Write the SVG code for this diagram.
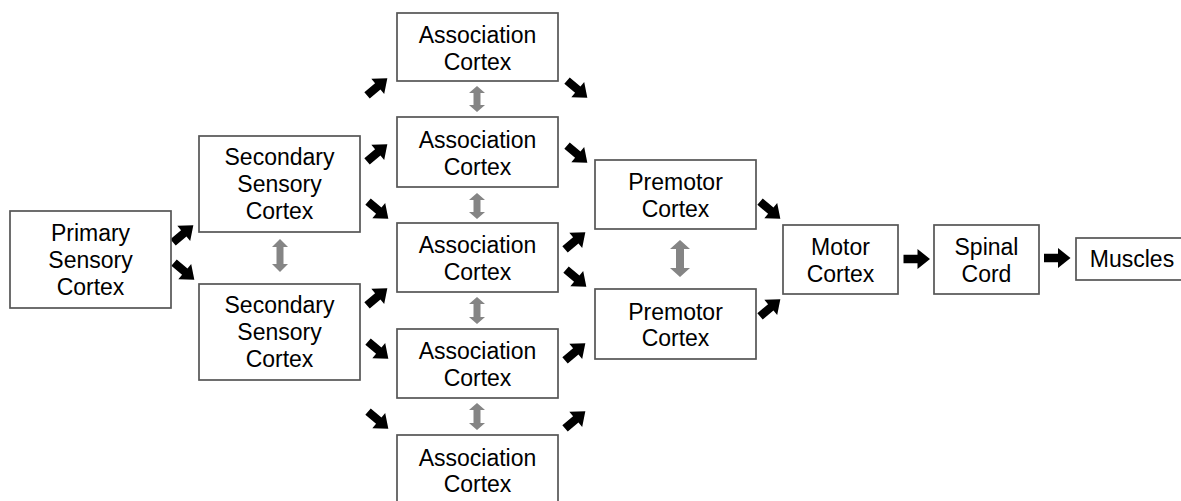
<svg xmlns="http://www.w3.org/2000/svg" width="1181" height="501" viewBox="0 0 1181 501">
<style>
  .box{fill:#fff;stroke:#555;stroke-width:1.7}
  .lbl{font-family:"Liberation Sans",Arial,sans-serif;font-size:23px;fill:#000;text-anchor:middle}
  .blk{fill:#000}
  .gry{fill:#858585}
</style>
<defs>
  <path id="ar" d="M-13,-4.2 H1 V-10 L13.5,0 L1,10 V4.2 H-13 Z"/>
</defs>
<rect width="1181" height="501" fill="#fff"/>

<g id="connectors">
  <!-- black block arrows -->
  <use href="#ar" class="blk" transform="translate(183,234) rotate(-40)"/>
  <use href="#ar" class="blk" transform="translate(184,271) rotate(40)"/>
  <use href="#ar" class="blk" transform="translate(377,87) rotate(-40)"/>
  <use href="#ar" class="blk" transform="translate(377,153) rotate(-40)"/>
  <use href="#ar" class="blk" transform="translate(378,210) rotate(40)"/>
  <use href="#ar" class="blk" transform="translate(377,297) rotate(-40)"/>
  <use href="#ar" class="blk" transform="translate(378,350) rotate(40)"/>
  <use href="#ar" class="blk" transform="translate(378,420) rotate(40)"/>
  <use href="#ar" class="blk" transform="translate(577,89) rotate(40)"/>
  <use href="#ar" class="blk" transform="translate(577,154) rotate(40)"/>
  <use href="#ar" class="blk" transform="translate(575,241) rotate(-40)"/>
  <use href="#ar" class="blk" transform="translate(576,278) rotate(40)"/>
  <use href="#ar" class="blk" transform="translate(575,352) rotate(-40)"/>
  <use href="#ar" class="blk" transform="translate(575,420) rotate(-40)"/>
  <use href="#ar" class="blk" transform="translate(770,210) rotate(40)"/>
  <use href="#ar" class="blk" transform="translate(770,308) rotate(-40)"/>
  <use href="#ar" class="blk" transform="translate(916.5,259)"/>
  <use href="#ar" class="blk" transform="translate(1057,258)"/>
  <!-- gray double arrows -->
  <path class="gry" d="M280,239 L288,247 H283.5 V264 H288 L280,272 L272,264 H276.5 V247 H272 Z"/>
  <path class="gry" d="M477,86 L485,93 H480.5 V105 H485 L477,112 L469,105 H473.5 V93 H469 Z"/>
  <path class="gry" d="M477,193 L485,200 H480.5 V212 H485 L477,219 L469,212 H473.5 V200 H469 Z"/>
  <path class="gry" d="M477,297 L485,304 H480.5 V317 H485 L477,324 L469,317 H473.5 V304 H469 Z"/>
  <path class="gry" d="M477,403 L485,410 H480.5 V423 H485 L477,430 L469,423 H473.5 V410 H469 Z"/>
  <path class="gry" d="M680,240 L690,249 H684 V268 H690 L680,277 L670,268 H676 V249 H670 Z"/>
</g>

<g id="primary">
  <rect class="box" x="10" y="211" width="161" height="97"/>
  <text class="lbl" x="90.5" y="241">Primary</text>
  <text class="lbl" x="90.5" y="268">Sensory</text>
  <text class="lbl" x="90.5" y="295">Cortex</text>
</g>
<g id="secondary1">
  <rect class="box" x="199" y="136" width="161" height="96"/>
  <text class="lbl" x="279.5" y="165">Secondary</text>
  <text class="lbl" x="279.5" y="192">Sensory</text>
  <text class="lbl" x="279.5" y="219">Cortex</text>
</g>
<g id="secondary2">
  <rect class="box" x="199" y="284" width="161" height="96"/>
  <text class="lbl" x="279.5" y="313">Secondary</text>
  <text class="lbl" x="279.5" y="340">Sensory</text>
  <text class="lbl" x="279.5" y="367">Cortex</text>
</g>
<g id="assoc1">
  <rect class="box" x="397" y="13" width="161" height="68"/>
  <text class="lbl" x="477.5" y="43">Association</text>
  <text class="lbl" x="477.5" y="70">Cortex</text>
</g>
<g id="assoc2">
  <rect class="box" x="397" y="117" width="161" height="70"/>
  <text class="lbl" x="477.5" y="148">Association</text>
  <text class="lbl" x="477.5" y="175">Cortex</text>
</g>
<g id="assoc3">
  <rect class="box" x="397" y="223" width="161" height="69"/>
  <text class="lbl" x="477.5" y="253">Association</text>
  <text class="lbl" x="477.5" y="280">Cortex</text>
</g>
<g id="assoc4">
  <rect class="box" x="397" y="329" width="161" height="69"/>
  <text class="lbl" x="477.5" y="359">Association</text>
  <text class="lbl" x="477.5" y="386">Cortex</text>
</g>
<g id="assoc5">
  <rect class="box" x="397" y="435" width="161" height="70"/>
  <text class="lbl" x="477.5" y="466">Association</text>
  <text class="lbl" x="477.5" y="492">Cortex</text>
</g>
<g id="premotor1">
  <rect class="box" x="595" y="160" width="161" height="69"/>
  <text class="lbl" x="675.5" y="190">Premotor</text>
  <text class="lbl" x="675.5" y="217">Cortex</text>
</g>
<g id="premotor2">
  <rect class="box" x="595" y="289" width="161" height="70"/>
  <text class="lbl" x="675.5" y="320">Premotor</text>
  <text class="lbl" x="675.5" y="346">Cortex</text>
</g>
<g id="motor">
  <rect class="box" x="783" y="225" width="115" height="69"/>
  <text class="lbl" x="840.5" y="255">Motor</text>
  <text class="lbl" x="840.5" y="282">Cortex</text>
</g>
<g id="spinal">
  <rect class="box" x="934" y="225" width="105" height="69"/>
  <text class="lbl" x="986.5" y="255">Spinal</text>
  <text class="lbl" x="986.5" y="282">Cord</text>
</g>
<g id="muscles">
  <rect class="box" x="1076" y="238" width="108" height="42"/>
  <text class="lbl" x="1132" y="267">Muscles</text>
</g>
</svg>
